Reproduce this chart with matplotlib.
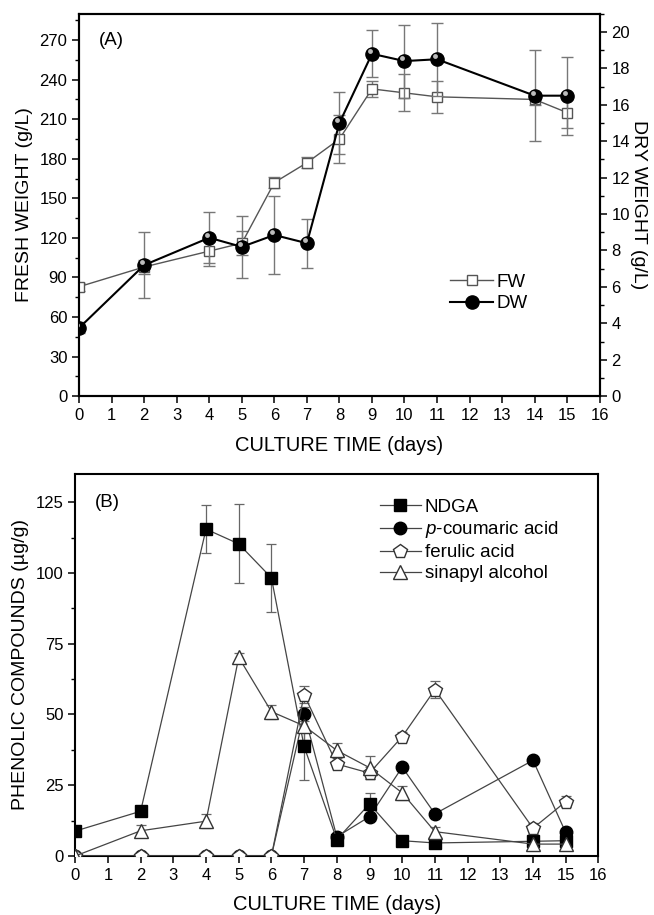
import matplotlib
matplotlib.use("Agg")
import matplotlib.pyplot as plt
import matplotlib.transforms as mtransforms
import numpy as np
from matplotlib.ticker import MultipleLocator

plt.rcParams['font.family'] = ['Liberation Sans', 'DejaVu Sans']
plt.rcParams['mathtext.fontset'] = 'custom'
plt.rcParams['mathtext.rm'] = 'Liberation Sans'
plt.rcParams['mathtext.it'] = 'Liberation Sans:italic'

# (A) biomass
days_a = [0, 2, 4, 5, 6, 7, 8, 9, 10, 11, 14, 15]
fw = [83, 98, 110, 116, 162, 177, 195, 233, 230, 227, 225, 215]
fw_err = [3, 5, 11, 9, 4, 4, 18, 6, 14, 12, 4, 12]
dw = [3.75, 7.2, 8.7, 8.2, 8.85, 8.4, 15.0, 18.8, 18.4, 18.5, 16.5, 16.5]
dw_err = [0.3, 1.8, 1.4, 1.7, 2.15, 1.35, 1.7, 1.3, 2.0, 2.0, 2.5, 2.15]

# (B) phenolic compounds
days_b = [0, 2, 4, 5, 6, 7, 8, 9, 10, 11, 14, 15]
ndga = [8.8, 15.8, 115.5, 110.3, 98.3, 38.7, 5.8, 18.4, 5.4, 4.6, 5.2, 5.4]
ndga_err = [1, 1, 8.5, 14, 12, 12, 1, 4, 1, 1, 1, 1]
pcoum = [0, 0, 0, 0, 0, 50.3, 6.8, 13.9, 31.4, 14.9, 33.8, 8.3]
pcoum_err = [0, 0, 0, 0, 0, 2.5, 1, 1, 1, 1, 1, 1]
ferulic = [0, 0, 0, 0, 0, 57.0, 32.5, 29.3, 42.2, 58.8, 9.8, 19.2]
ferulic_err = [0, 0, 0, 0, 0, 3, 1.5, 2, 1.5, 3, 2, 2]
sinapyl = [0, 8.9, 12.3, 70.2, 51.0, 46.0, 37.3, 31.2, 22.3, 8.6, 4.2, 4.2]
sinapyl_err = [0, 2, 2.5, 1.5, 2.5, 5, 2.5, 4, 2.5, 1.5, 2, 2]

fig = plt.figure(figsize=(6.54, 9.15), dpi=100)

tick_kw = dict(direction='out', length=5, width=1.1, labelsize=12)
minor_kw = dict(direction='out', length=3, width=1.0)
label_fs = 14

# ---------- panel A ----------
ax1 = fig.add_axes([0.121, 0.567, 0.796, 0.418])
ax1r = ax1.twinx()

ax1.errorbar(days_a, fw, yerr=fw_err, fmt='none', ecolor='#777777',
             elinewidth=1.0, capsize=4, capthick=1.0, zorder=2)
ax1.plot(days_a, fw, color='#555555', lw=1.0, marker='s', ms=7.5,
         mfc='white', mec='#555555', mew=1.0, zorder=3, label='FW')

ax1r.errorbar(days_a, dw, yerr=dw_err, fmt='none', ecolor='#777777',
              elinewidth=1.0, capsize=4, capthick=1.0, zorder=2)
ax1r.plot(days_a, dw, color='black', lw=1.5, marker='o', ms=9.5,
          mfc='black', mec='black', zorder=3, label='DW')
# highlight on the spheres
shift = mtransforms.offset_copy(ax1r.transData, fig=fig, x=-1.5, y=2.0, units='points')
ax1r.plot(days_a, dw, ls='none', marker='o', ms=3.5, mfc='#bbbbbb', mec='none',
          transform=shift, zorder=4)

ax1.set_xlim(0, 16)
ax1.set_ylim(0, 290)
ax1r.set_ylim(0, 21)
ax1.xaxis.set_major_locator(MultipleLocator(1))
ax1.yaxis.set_major_locator(MultipleLocator(30))
ax1.yaxis.set_minor_locator(MultipleLocator(15))
ax1r.yaxis.set_major_locator(MultipleLocator(2))
ax1r.yaxis.set_minor_locator(MultipleLocator(1))
ax1.tick_params(which='major', **tick_kw)
ax1.tick_params(which='minor', **minor_kw)
ax1r.tick_params(which='major', **tick_kw)
ax1r.tick_params(which='minor', **minor_kw)
ax1.tick_params(axis='x', top=False)
for sp in list(ax1.spines.values()) + list(ax1r.spines.values()):
    sp.set_linewidth(1.5)

ax1.set_xlabel('CULTURE TIME (days)', fontsize=14.5, labelpad=9)
ax1.set_ylabel('FRESH WEIGHT (g/L)', fontsize=label_fs, labelpad=5)
ax1r.set_ylabel('DRY WEIGHT (g/L)', fontsize=label_fs, rotation=270, labelpad=12)
ax1.text(0.6, 270, '(A)', fontsize=13.5, va='center', ha='left')

h1, l1 = ax1.get_legend_handles_labels()
h2, l2 = ax1r.get_legend_handles_labels()
ax1r.legend(h1 + h2, l1 + l2, loc='center left', bbox_to_anchor=(0.68, 0.27),
            frameon=False, fontsize=13.5, handlelength=2.3, handletextpad=0.2,
            labelspacing=0.25)

# ---------- panel B ----------
ax2 = fig.add_axes([0.115, 0.0645, 0.800, 0.4175])
line_c = '#444444'
err_kw = dict(fmt='none', ecolor='#666666', elinewidth=0.9, capsize=3.5, capthick=0.9)

ax2.errorbar(days_b, pcoum, yerr=pcoum_err, **err_kw, zorder=2)
ax2.plot(days_b, pcoum, color=line_c, lw=0.9, marker='o', ms=9, mfc='black',
         mec='black', label='$\\it{p}$-coumaric acid', zorder=3)
ax2.errorbar(days_b, ndga, yerr=ndga_err, **err_kw, zorder=2)
ax2.plot(days_b, ndga, color=line_c, lw=0.9, marker='s', ms=8, mfc='black',
         mec='black', label='NDGA', zorder=4)
ax2.errorbar(days_b, ferulic, yerr=ferulic_err, **err_kw, zorder=2)
ax2.plot(days_b, ferulic, color=line_c, lw=0.9, marker='p', ms=10.5, mfc='white',
         mec='#333333', mew=1.0, label='ferulic acid', zorder=5)
ax2.errorbar(days_b, sinapyl, yerr=sinapyl_err, **err_kw, zorder=2)
ax2.plot(days_b, sinapyl, color=line_c, lw=0.9, marker='^', ms=10.5, mfc='white',
         mec='#333333', mew=1.0, label='sinapyl alcohol', zorder=6)

ax2.set_xlim(0, 16)
ax2.set_ylim(0, 135)
ax2.xaxis.set_major_locator(MultipleLocator(1))
ax2.yaxis.set_major_locator(MultipleLocator(25))
ax2.yaxis.set_minor_locator(MultipleLocator(12.5))
ax2.tick_params(which='major', **tick_kw)
ax2.tick_params(which='minor', **minor_kw)
ax2.tick_params(axis='both', top=False, right=False)
for sp in ax2.spines.values():
    sp.set_linewidth(1.5)

ax2.set_xlabel('CULTURE TIME (days)', fontsize=14.5, labelpad=9)
ax2.set_ylabel('PHENOLIC COMPOUNDS (\u00b5g/g)', fontsize=label_fs, labelpad=5)
ax2.text(0.6, 125, '(B)', fontsize=13.5, va='center', ha='left')

h, l = ax2.get_legend_handles_labels()
order = [1, 0, 2, 3]
ax2.legend([h[i] for i in order], [l[i] for i in order], loc='upper left',
           bbox_to_anchor=(0.55, 0.98), frameon=False, fontsize=13.5,
           handlelength=2.2, handletextpad=0.2, labelspacing=0.2)

fig.savefig('out.png', dpi=100)
